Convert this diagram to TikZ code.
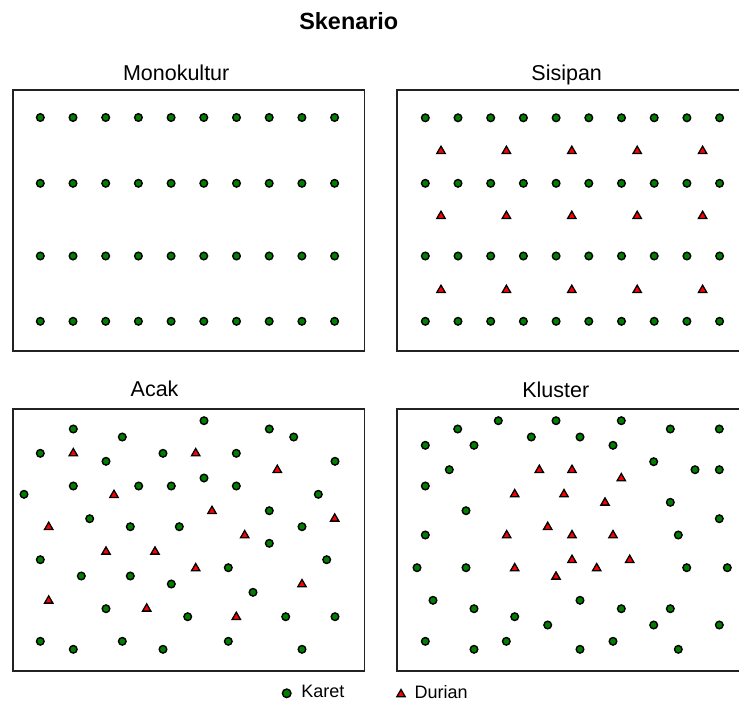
\documentclass[tikz,border=0pt]{standalone}
\usepackage{fontspec}
\setmainfont{Liberation Sans}
\usetikzlibrary{positioning,shapes.geometric}
\definecolor{KaretGreen}{HTML}{007F00}
\definecolor{DurianRed}{HTML}{FF0000}
\definecolor{PanelDark}{HTML}{222222}
\tikzset{karet/.style={circle, draw=black, line width=1.4pt, fill=KaretGreen, inner sep=0pt, minimum size=7.6pt}, durian/.style={regular polygon, regular polygon sides=3, draw=black, line width=1.3pt, fill=DurianRed, inner sep=0pt, minimum size=9.6pt}, panel/.style={draw=PanelDark, line width=1.6pt, anchor=north west, minimum width=351.5pt, inner sep=0pt}, paneltitle/.style={anchor=base, inner sep=0pt, font=\fontsize{21.5}{24}\selectfont}, bigtitle/.style={anchor=base, inner sep=0pt, font=\fontsize{23.4}{26}\selectfont\bfseries}, legendtext/.style={inner sep=0pt, font=\fontsize{18}{20}\selectfont}}

\begin{document}
\begin{tikzpicture}[x=1pt, y=-1pt]
\useasboundingbox (0,0) rectangle (739,702);
\node[bigtitle] (title) at (348.8,29.3) {Skenario};

% panels
\node[panel, minimum height=260.7pt] (mono) at (12,89.3) {};
\node[panel, minimum height=260.7pt] (sisip) at (396,89.3) {};
\node[panel, minimum height=261.7pt] (acak) at (12,408.3) {};
\node[panel, minimum height=261.7pt] (klus) at (396,408.3) {};
\node[paneltitle] (mono-t) at (176.2,80) {Monokultur};
\node[paneltitle] (sisip-t) at (566.7,80) {Sisipan};
\node[paneltitle] (acak-t) at (154.6,396.7) {Acak};
\node[paneltitle] (klus-t) at (555.8,397.3) {Kluster};

% Monokultur
\foreach \y [count=\r] in {117.5,183.3,256,321.3}
  \foreach \c in {1,...,10}
    \node[karet] (mono-k\r-\c) at ({40.3+32.7*(\c-1)},\y) {};

% Sisipan
\foreach \y [count=\r] in {117.8,183.3,256,321.3}
  \foreach \c in {1,...,10}
    \node[karet] (sisip-k\r-\c) at ({425.3+32.7*(\c-1)},\y) {};
\foreach \y [count=\r] in {151,216,290}
  \foreach \c in {1,...,5}
    \node[durian] (sisip-d\r-\c) at ({441+65.4*(\c-1)},\y) {};

% Acak
\foreach \x/\y [count=\i] in {73.3/429, 204/420.7, 269.3/429, 293.7/437, 122.3/437, 40.3/453.3, 163/453.3, 236.3/453.3, 335/461.3, 106/461.3,
  73.3/486, 138.7/486, 171.3/486, 204/478, 236.3/486, 24/494.3, 318.3/494.3, 89.7/518.7, 130.3/526.7, 179.3/526.7,
  269.3/510.7, 302/526.7, 269.3/543.3, 40.3/559.7, 326.7/559.7, 81.3/576, 130.3/576, 228.3/567.7, 171.3/584, 253/592.3,
  106/608.7, 187.7/616.7, 285.7/616.7, 335/616.7, 40.3/641.3, 73.3/649.3, 122.3/641.3, 163/649.3, 228.3/641.3, 302/649.3}
  \node[karet] (acak-k\i) at (\x,\y) {};
\foreach \x/\y [count=\i] in {73.3/453.3, 195.7/453.3, 277.3/470, 114/495, 212/511, 48.7/527, 334.7/518.7, 244.7/535.3,
  106/551.7, 155/551.7, 195.7/568.3, 302/584.3, 48.7/600.7, 146.7/608.7, 236.3/617}
  \node[durian] (acak-d\i) at (\x,\y) {};

% Kluster
\foreach \x/\y [count=\i] in {498.3/420.7, 556/420.7, 621.3/420.7, 457.7/429, 670.3/429, 719.3/429, 425.3/445.3, 474/445.3, 531.3/437, 580/437,
  613/445.3, 653.7/461.7, 449.3/469.7, 695/469.7, 719.3/469.7, 425.3/486, 670.3/502.3, 466/510.7, 719.3/518.7, 425.3/535,
  678.3/535, 417/567.7, 466/567.7, 686.7/567.7, 727.3/567.7, 433/600.3, 580/600.3, 474/608.7, 621.3/608.7, 670.3/608.7,
  514.7/616.7, 547.7/625, 653.7/625, 719.3/625, 425.3/641.3, 506.3/641.3, 613/641.3, 474/649.3, 580/649.3, 678.3/649.3}
  \node[karet] (klus-k\i) at (\x,\y) {};
\foreach \x/\y [count=\i] in {539.3/470, 572/470, 621.3/478.3, 514.7/494.3, 564/494.3, 605/502.7, 547.7/527, 506.7/535.3,
  572/535.3, 613/535.3, 572/560, 629.7/560, 514.7/568.3, 596.7/568.3, 556/576.7}
  \node[durian] (klus-d\i) at (\x,\y) {};

% legenda
\node[karet, minimum size=8.6pt] (leg-karet) at (286.7,693.3) {};
\node[legendtext, right=9.5pt of leg-karet, yshift=2.4pt] (leg-karet-t) {Karet};
\node[durian] (leg-durian) at (401,694.3) {};
\node[legendtext, right=10pt of leg-durian, yshift=2.4pt] (leg-durian-t) {Durian};
\end{tikzpicture}
\end{document}
